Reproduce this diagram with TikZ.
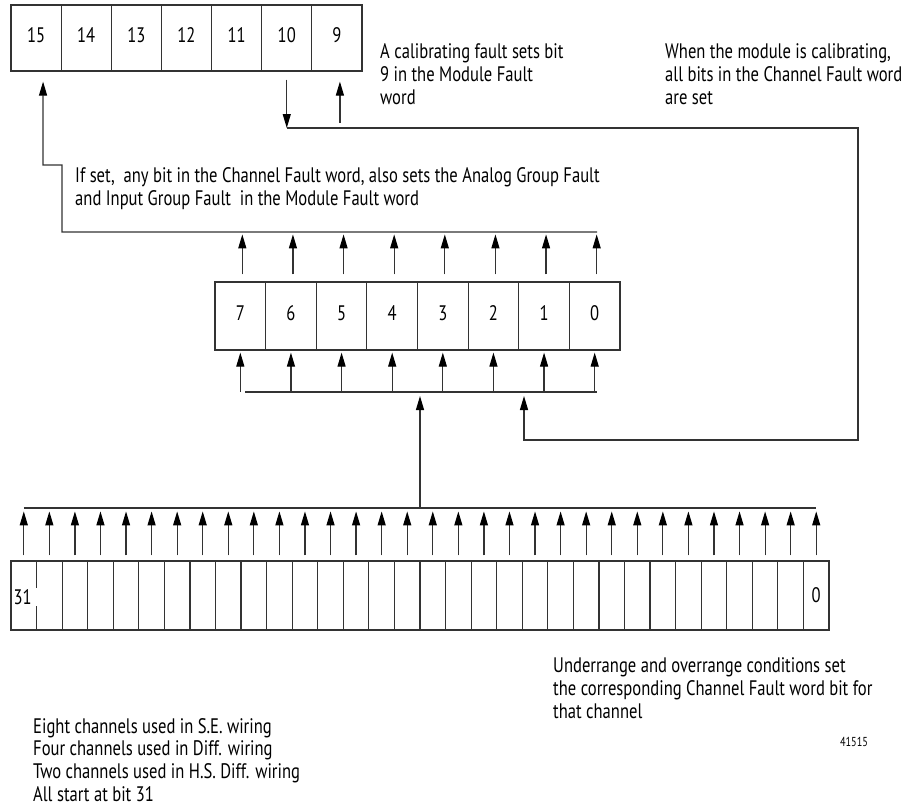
\documentclass[tikz,border=0pt]{standalone}
\usepackage{fontspec}
\setmainfont{PT Sans}[FakeStretch=0.79]
\usetikzlibrary{arrows.meta}
\tikzset{
  ln/.style={draw=black!80, line width=1.2pt},
  arr/.style={ln, -{Triangle[length=14pt,width=8pt,color=black]}},
  cell/.style={ln, inner sep=0pt, font=\fontsize{21}{24}\selectfont, text height=15pt, text depth=6pt},
  txt/.style={inner sep=0pt, anchor=north west, align=left, font=\fontsize{21}{23.3}\selectfont}
}
\begin{document}
\begin{tikzpicture}[x=1pt,y=-1pt]
\useasboundingbox[fill=white] (0,0) rectangle (918,809);
% top word (bits 15..9)
\foreach \i in {0,...,6}{
  \pgfmathtruncatemacro\lab{15-\i}
  \node[cell, minimum width=50.14pt, minimum height=66pt] (t\lab) at ({11+50.14*(\i+0.5)},38) {\lab};
}
% middle word (bits 7..0)
\foreach \i in {0,...,7}{
  \pgfmathtruncatemacro\lab{7-\i}
  \node[cell, minimum width=50.625pt, minimum height=68pt] (m\lab) at ({215+50.625*(\i+0.5)},316) {\lab};
}
% bottom word (bits 31..0)
\foreach \i in {0,...,31}{
  \pgfmathtruncatemacro\lab{31-\i}
  \node[ln, inner sep=0pt, minimum width=25.5625pt, minimum height=69pt] (b\lab) at ({11+25.5625*(\i+0.5)},595.5) {};
}
\node[fill=white, inner sep=1pt, text width=25pt, align=left, anchor=west, font=\fontsize{21}{24}\selectfont] (l31) at (12.5,597) {31};
\node[font=\fontsize{21}{24}\selectfont, inner sep=0pt] (l0) at (b0) {0};

% arrows from middle word up to the bus
\foreach \b in {0,...,7}{
  \draw[arr] ([xshift=2pt,yshift=7pt]m\b.north) -- ([xshift=2pt,yshift=47pt]m\b.north);
}
\coordinate (busTR) at (597,232);
\draw[arr] (busTR) -- (62,232) -- (62,165) -- (43,165) -- ([xshift=7pt,yshift=-10pt]t15.south);

% arrows from lower bus up into middle word
\draw[ln] (245,392) -- (597,392);
\foreach \b in {0,...,7}{
  \draw[arr] (m\b.south |- 0,392) -- ([yshift=-2pt]m\b.south);
}

% bit 10 calibrating path
\coordinate (c10) at (t10.south |- 0,128);
\draw[arr] ([yshift=-8pt]t10.south) -- (c10);
\draw[arr] (c10) -- (858,128) -- (858,440) -- (524,440) -- (524,396);
% bit 9 arrow
\draw[arr] ([xshift=3pt,yshift=-51pt]t9.south) -- ([xshift=3pt,yshift=-10pt]t9.south);

% bottom bus
\draw[ln] (b31.north |- 0,508) -- (b0.north |- 0,508);
\foreach \b in {0,...,31}{
  \draw[arr] ([yshift=5pt]b\b.north) -- ([yshift=49pt]b\b.north);
}
\draw[arr] (420,508) -- (420,396);

% texts
\node[txt] (tA) at (380,43) {A calibrating fault sets bit\\9 in the Module Fault\\word};
\node[txt] (tB) at (665,43) {When the module is calibrating,\\all bits in the Channel Fault word\\are set};
\node[txt] (tC) at (75,167) {If set,\ \ any bit in the Channel Fault word, also sets the Analog Group Fault\\and Input Group Fault\ \ in the Module Fault word};
\node[txt] (tD) at (553,657) {Underrange and overrange conditions set\\the corresponding Channel Fault word bit for\\that channel};
\node[txt, font=\fontsize{21}{22.8}\selectfont] (tE) at (33,718) {Eight channels used in S.E. wiring\\Four channels used in Diff. wiring\\Two channels used in H.S. Diff. wiring\\All start at bit 31};
\node[inner sep=0pt, font=\fontsize{13}{15}\selectfont] (fig) at (854,742) {41515};
\end{tikzpicture}
\end{document}
